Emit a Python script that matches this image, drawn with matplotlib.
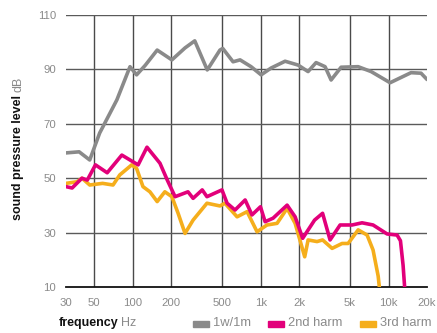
import matplotlib
matplotlib.use("Agg")
import matplotlib.pyplot as plt
from matplotlib.patches import Rectangle

plt.rcParams["font.family"] = ["Liberation Sans", "DejaVu Sans"]

# frequency response at 1 W / 1 m
fund_hz = [30, 38, 46, 55, 75, 95, 107, 125, 155, 202, 256, 305, 382, 480, 505,
           608, 690, 841, 1008, 1206, 1552, 1961, 2348, 2712, 3190, 3555, 4257,
           5785, 7310, 10290, 15000, 17970, 20000]
fund_db = [59.3, 59.7, 56.7, 66.6, 78.8, 91.0, 88.0, 91.5, 97.1, 93.5, 97.9, 100.5,
           89.8, 97.1, 97.7, 92.8, 93.5, 91.0, 88.0, 90.5, 93.0, 91.6, 89.2, 92.5,
           91.0, 86.1, 90.8, 91.0, 89.2, 85.1, 88.8, 88.6, 86.3]

# 2nd harmonic distortion
h2_hz = [30, 33.5, 40, 44, 51, 63, 82, 110, 129, 163, 186, 214, 270, 296, 349,
         380, 498, 546, 630, 756, 855, 996, 1083, 1250, 1610, 1860, 2130, 2640,
         3050, 3490, 4180, 5190, 6210, 7570, 9750, 11670, 12400, 13000, 13600]
h2_db = [46.9, 46.4, 50.0, 49.3, 54.9, 52.0, 58.5, 54.9, 61.4, 55.5, 49.3, 43.2,
         45.0, 42.6, 45.7, 43.2, 45.7, 40.8, 38.3, 42.0, 36.5, 39.5, 34.0, 35.3,
         40.1, 35.8, 27.9, 34.6, 37.1, 27.3, 32.8, 32.8, 33.6, 32.8, 29.5, 29.1,
         27.0, 18.0, 5.0]

# 3rd harmonic distortion
h3_hz = [30, 36.6, 40, 46, 58, 70, 79, 98, 107, 120, 136, 155, 178, 202, 226,
         256, 296, 380, 480, 525, 654, 783, 937, 1120, 1343, 1610, 1860, 2210,
         2350, 2760, 3050, 3620, 4330, 4830, 5790, 6800, 7570, 8300, 8700]
h3_db = [48.1, 48.7, 50.0, 47.5, 48.1, 47.5, 51.2, 54.9, 53.6, 46.9, 45.0, 41.4,
         45.0, 43.2, 37.1, 29.7, 34.6, 40.8, 39.8, 40.8, 35.8, 37.7, 30.3, 32.8,
         33.4, 38.9, 33.4, 21.1, 27.3, 26.7, 27.3, 24.2, 26.0, 26.0, 31.0, 29.1,
         23.6, 14.0, 5.0]

series = [
    ("1w/1m", "#8a8a8a"),
    ("2nd harm", "#e2007a"),
    ("3rd harm", "#f5ae1c"),
]

xticks = [30, 50, 100, 200, 500, 1000, 2000, 5000, 10000, 20000]
xticklabels = ["30", "50", "100", "200", "500", "1k", "2k", "5k", "10k", "20k"]
yticks = [10, 30, 50, 70, 90, 110]

W, H = 437, 333
fig = plt.figure(figsize=(W / 100, H / 100), dpi=100)
ax = fig.add_axes([66 / W, 1 - 287 / H, 361 / W, 272 / H])

grid = "#4a4a4a"
for f in [50, 100, 200, 500, 1000, 2000, 5000, 10000]:
    ax.axvline(f, color=grid, lw=1.0, zorder=1)
for v in yticks[1:]:
    ax.axhline(v, color="#5a5a5a", lw=1.0, zorder=1)

ax.plot(h3_hz, h3_db, color=series[2][1], lw=2.6, solid_joinstyle="round",
        solid_capstyle="round", zorder=3)
ax.plot(h2_hz, h2_db, color=series[1][1], lw=2.6, solid_joinstyle="round",
        solid_capstyle="round", zorder=4)
ax.plot(fund_hz, fund_db, color=series[0][1], lw=2.6, solid_joinstyle="round",
        solid_capstyle="round", zorder=5)

ax.set_xscale("log")
ax.set_xlim(30, 20000)
ax.set_ylim(10, 110)
ax.set_xticks(xticks)
ax.set_xticklabels(xticklabels)
ax.minorticks_off()
ax.set_yticks(yticks)
ax.tick_params(length=0, labelsize=8.2, labelcolor="#8a8a8a")
ax.tick_params(axis="y", pad=7)
ax.tick_params(axis="x", pad=8)
for side in ["top", "right", "left"]:
    ax.spines[side].set_visible(False)
ax.spines["bottom"].set_color("#111111")
ax.spines["bottom"].set_linewidth(1.3)
ax.set_facecolor("none")

renderer = fig.canvas.get_renderer()

# axis titles: bold name followed by gray unit
t = fig.text(59 / W, 1 - 323 / H, "frequency", fontsize=9, fontweight="bold",
             color="#111111", ha="left", va="center")
bb = t.get_window_extent(renderer)
fig.text((bb.x1 + 2) / W, 1 - 323 / H, "Hz", fontsize=9, color="#8a8a8a",
         ha="left", va="center")

t = fig.text(18 / W, 1 - 220 / H, "sound pressure level", fontsize=9,
             fontweight="bold", color="#111111", rotation=90,
             ha="center", va="bottom")
bb = t.get_window_extent(renderer)
fig.text(18 / W, (bb.y1 + 3) / H, "dB", fontsize=9, color="#8a8a8a",
         rotation=90, ha="center", va="bottom")

# legend swatches
for (name, color), x0 in zip(series, [193, 268, 360]):
    fig.patches.append(Rectangle((x0 / W, 1 - 327 / H), 16 / W, 6 / H,
                                 transform=fig.transFigure, color=color))
    fig.text((x0 + 20) / W, 1 - 323 / H, name, fontsize=9.3, color="#8a8a8a",
             ha="left", va="center")

fig.savefig("out.png", dpi=100)
